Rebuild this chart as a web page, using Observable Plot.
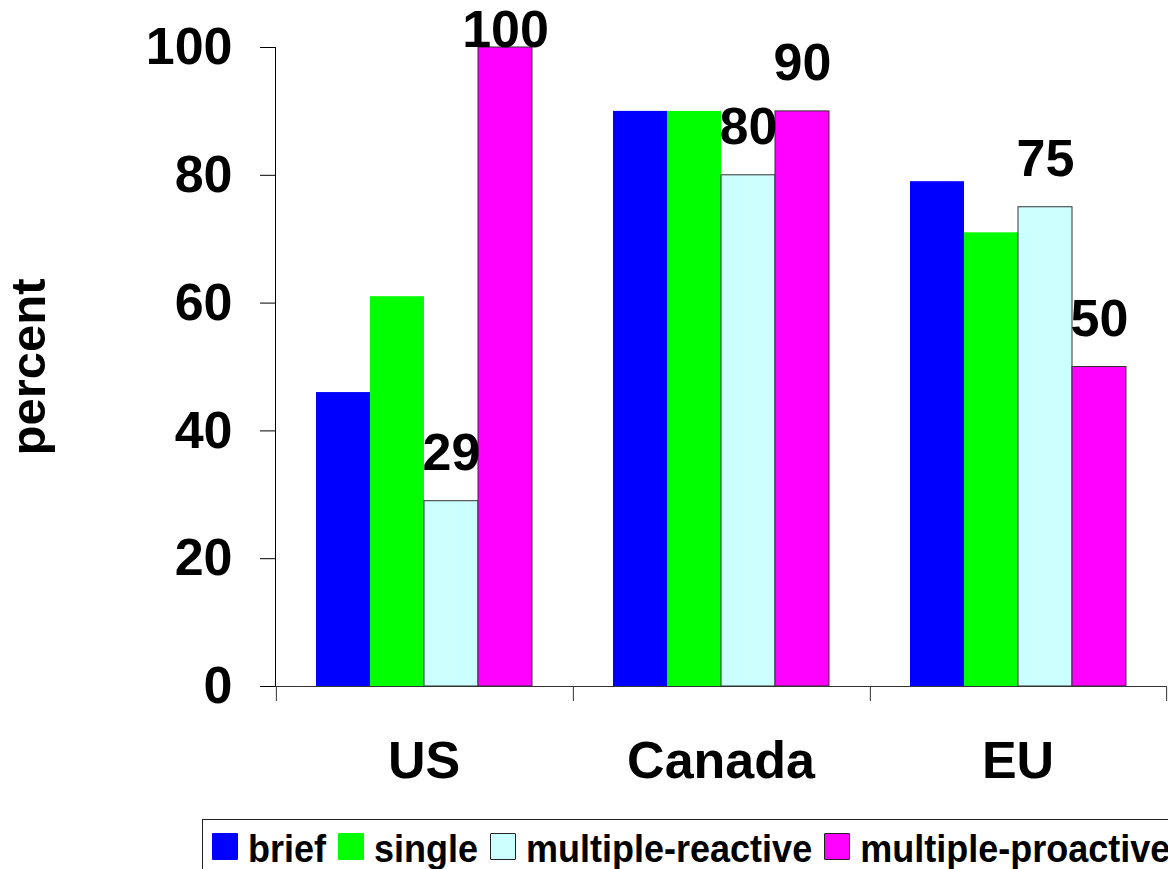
<!DOCTYPE html>
<html>
<head>
<meta charset="utf-8">
<script src="https://cdn.jsdelivr.net/npm/d3@7"></script>
<script src="https://cdn.jsdelivr.net/npm/@observablehq/plot@0.6"></script>
<style>
  html, body { margin: 0; padding: 0; background: #fff; overflow: hidden; }
  body { width: 1168px; height: 869px; font-family: "Liberation Sans", Arial, sans-serif; font-weight: bold; }
  #legend {
    position: absolute; left: 202px; top: 819px;
    width: 1100px; height: 80px;
    border: 1.5px solid #222; box-sizing: border-box;
    display: flex; align-items: flex-start; padding-top: 13px; padding-left: 9px;
    font-size: 36px; line-height: 30px; white-space: nowrap;
  }
  .item { display: flex; align-items: flex-start; margin-right: 12px; }
  .sw { width: 26px; height: 27px; margin-right: 10px; box-sizing: border-box; border-radius: 1px; }
  .lbl { transform: scaleY(1.08); transform-origin: top; }
  g[aria-label="y-axis label"] { font-size: 49px; }
</style>
</head>
<body>
<div id="chart"></div>
<div id="legend"></div>
<script>
// ---- data ----
const categories = ["US", "Canada", "EU"];
const series = ["brief", "single", "multiple-reactive", "multiple-proactive"];
const brief = [46, 90, 79];
const single = [61, 90, 71];
const multipleReactive = [29, 80, 75];
const multipleProactive = [100, 90, 50];
const seriesColors = ["#0000ff", "#00ff00", "#ccffff", "#ff00ff"];
const outlinedSeries = ["multiple-reactive", "multiple-proactive"];
const yTicks = [0, 20, 40, 60, 80, 100];

// ---- table built from the arrays ----
const valuesBySeries = [brief, single, multipleReactive, multipleProactive];
const data = categories.flatMap((c, i) =>
  series.map((s, j) => ({category: c, series: s, value: valuesBySeries[j][i]}))
);
const plain = data.filter(d => !outlinedSeries.includes(d.series));
const outlined = data.filter(d => outlinedSeries.includes(d.series));

// ---- layout ----
const W = 1168, H = 810, mT = 47, mB = 124, mL = 275, mR = 2;
const plotH = H - mT - mB;
const tickLen = 15;
const tickData = tickLen * 100 / plotH; // tick length in data units
const padOuter = 0.737;
const step = (W - mL - mR) / categories.length / (series.length + 2 * padOuter);
const edgeOffset = padOuter * step + step / 2;

const chart = Plot.plot({
  width: W, height: H,
  marginTop: mT, marginBottom: mB, marginLeft: mL, marginRight: mR,
  style: {fontFamily: "'Liberation Sans', Arial, sans-serif", fontWeight: "bold", fontSize: "52px", color: "#000", background: "#fff"},
  fx: {domain: categories, padding: 0, axis: "bottom", tickSize: 0, tickPadding: 55, label: null},
  x: {domain: series, paddingInner: 0, paddingOuter: padOuter, axis: null},
  y: {domain: [0, 100], ticks: yTicks, tickSize: tickLen, tickPadding: 28, line: true,
      label: "percent", labelAnchor: "center", labelOffset: 265, labelArrow: false},
  color: {domain: series, range: seriesColors},
  marks: [
    Plot.barY(plain, {fx: "category", x: "series", y: "value", fill: "series"}),
    Plot.barY(outlined, {fx: "category", x: "series", y: "value", fill: "series", stroke: "#333", strokeWidth: 1}),
    Plot.ruleY([0], {stroke: "#333", strokeWidth: 1}),
    Plot.ruleX(categories, {fx: d => d, x: () => series[0], dx: -edgeOffset, y1: 0, y2: -tickData, stroke: "#333"}),
    Plot.ruleX([categories[categories.length - 1]], {fx: d => d, x: () => series[series.length - 1], dx: edgeOffset, y1: 0, y2: -tickData, stroke: "#333"}),
    Plot.text(outlined.filter(d => d.value < 100), {fx: "category", x: "series", y: "value", text: d => String(d.value), dy: -48, fill: "#000"}),
    Plot.text(outlined.filter(d => d.value >= 100), {fx: "category", x: "series", y: "value", text: d => String(d.value), dy: -17, fill: "#000"})
  ]
});
document.getElementById("chart").appendChild(chart);

// ---- legend ----
const legend = document.getElementById("legend");
series.forEach((s, i) => {
  const item = document.createElement("div");
  item.className = "item";
  const sw = document.createElement("div");
  sw.className = "sw";
  sw.style.background = seriesColors[i];
  if (outlinedSeries.includes(s)) sw.style.border = "1.5px solid #222";
  const lbl = document.createElement("span");
  lbl.className = "lbl";
  lbl.textContent = s;
  item.appendChild(sw);
  item.appendChild(lbl);
  legend.appendChild(item);
});
</script>
</body>
</html>
